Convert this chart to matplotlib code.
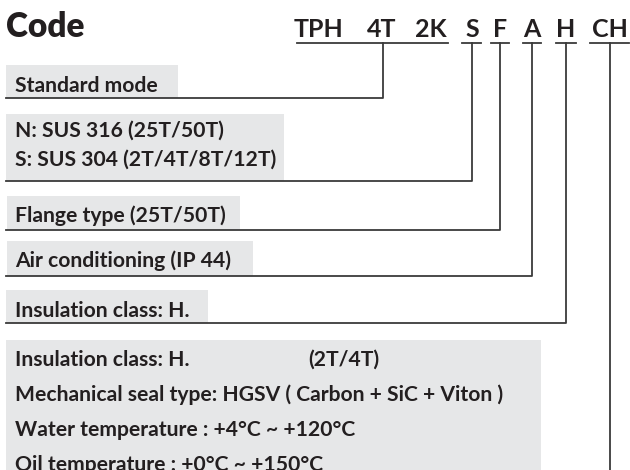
import matplotlib
matplotlib.use("Agg")
import matplotlib.pyplot as plt
from matplotlib.patches import Rectangle

plt.rcParams["font.family"] = ["Lato", "DejaVu Sans"]

TEXT = "#231f20"
LINE = "#3a3a3a"
BOX = "#e6e7e8"

# --- content
title = "Code"
code_parts = ["TPH", "4T", "2K", "S", "F", "A", "H", "CH"]
box_texts = [
    ["Standard mode"],
    ["N: SUS 316 (25T/50T)", "S: SUS 304 (2T/4T/8T/12T)"],
    ["Flange type (25T/50T)"],
    ["Air conditioning (IP 44)"],
    ["Insulation class: H."],
    ["Insulation class: H.",
     "Mechanical seal type: HGSV ( Carbon + SiC + Viton )",
     "Water temperature : +4°C ~ +120°C",
     "Oil temperature : +0°C ~ +150°C"],
]
extra_note = "(2T/4T)"
# which code part each box is tied to
box_code = ["4T", "S", "F", "A", "H", "CH"]

# --- layout (pixels, origin top-left)
code_x = [319, 382, 431, 472, 500, 532, 566, 610]
underlines = [(297, 448), (462, 481), (491, 509), (523, 541), (556, 576), (590, 629)]
underline_y = 43
leader_x = {"4T": 383, "S": 472, "F": 500, "A": 532, "H": 566, "CH": 610}
boxes = [(6, 65, 178, 98), (6, 114, 284, 181), (7, 196, 240, 230),
         (7, 241, 253, 276), (6, 290, 208, 323), (6, 340, 541, 480)]
baselines = [[92], [137, 166], [222], [267], [317], [366, 401, 436, 471]]

fig = plt.figure(figsize=(6.3, 4.7), dpi=100)
ax = fig.add_axes([0, 0, 1, 1])
ax.set_xlim(0, 630)
ax.set_ylim(470, 0)
ax.set_axis_off()

ax.text(6, 37, title, fontsize=24, fontweight="heavy", color=TEXT, va="baseline")
for part, x in zip(code_parts, code_x):
    ax.text(x, 37, part, fontsize=18, fontweight="bold", color=TEXT,
            ha="center", va="baseline")
for x0, x1 in underlines:
    ax.plot([x0, x1], [underline_y, underline_y], color=LINE, lw=1.3, zorder=3)

for lines, (x0, y0, x1, y1), ys, code in zip(box_texts, boxes, baselines, box_code):
    ax.add_patch(Rectangle((x0, y0), x1 - x0, y1 - y0, facecolor=BOX,
                           edgecolor="none", zorder=1))
    for s, y in zip(lines, ys):
        ax.text(15, y, s, fontsize=15.2, fontweight="bold", color=TEXT,
                va="baseline", zorder=2)
    lx = leader_x[code]
    if code == "CH":
        ax.plot([lx, lx], [underline_y, 470], color=LINE, lw=1.3, zorder=3)
    else:
        ax.plot([lx, lx, 6], [underline_y, y1, y1], color=LINE, lw=1.3, zorder=3)

ax.text(379, baselines[-1][0], extra_note, fontsize=15.2, fontweight="bold",
        color=TEXT, ha="right", va="baseline", zorder=2)

fig.savefig("out.png", dpi=100)
